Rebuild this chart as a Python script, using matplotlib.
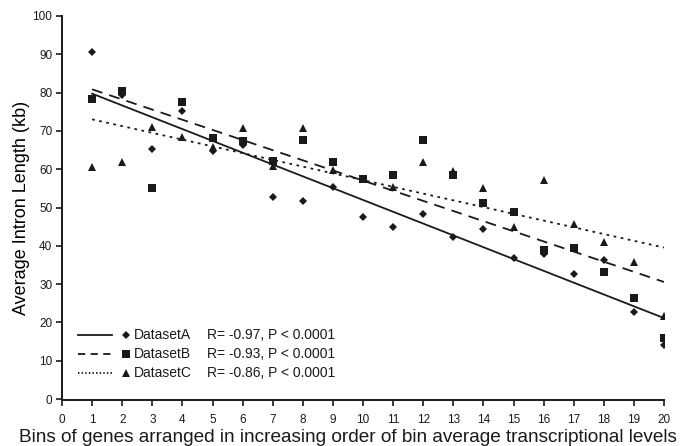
import numpy as np
import matplotlib
matplotlib.use("Agg")
import matplotlib.pyplot as plt
from matplotlib.lines import Line2D

plt.rcParams['font.family'] = ['Liberation Sans', 'DejaVu Sans']

bins = list(range(1, 21))
dataset_a = [90.7, 79.4, 65.2, 75.3, 64.8, 66.3, 52.8, 51.6, 55.3, 47.5,
             44.8, 48.2, 42.2, 44.3, 36.7, 37.9, 32.6, 36.3, 22.6, 14.1]
dataset_b = [78.3, 80.4, 55.0, 77.5, 68.2, 67.4, 62.1, 67.6, 61.8, 57.5,
             58.6, 67.6, 58.4, 51.3, 48.7, 38.9, 39.3, 33.2, 26.5, 15.8]
dataset_c = [60.5, 61.8, 70.9, 68.5, 65.9, 70.7, 60.9, 70.8, 59.8, 57.5,
             55.3, 61.8, 59.6, 55.0, 45.0, 57.2, 45.6, 41.1, 35.9, 21.7]
names = ["DatasetA", "DatasetB", "DatasetC"]
stats = ["R= -0.97, P < 0.0001", "R= -0.93, P < 0.0001", "R= -0.86, P < 0.0001"]
xticks = list(range(0, 21))
yticks = list(range(0, 101, 10))

W, H = 695, 446
fig = plt.figure(figsize=(W / 100, H / 100), dpi=100)
ax = fig.add_axes([62 / W, 1 - 399 / H, (664 - 62) / W, (399 - 16) / H])

markers = ['D', 's', '^']
msizes = [4.2, 5.2, 6.0]
styles = ['-', (0, (6, 4)), (0, (1.5, 2.5))]
leg_styles = ['-', (0, (4, 3)), (0, (0.8, 1.2))]
series = [dataset_a, dataset_b, dataset_c]
x = np.array(bins)
for ys, m, ms, ls in zip(series, markers, msizes, styles):
    ys = np.array(ys)
    ax.plot(x, ys, linestyle='none', marker=m, markersize=ms, color='#1a1a1a',
            markeredgewidth=0, zorder=3)
    k, b = np.polyfit(x, ys, 1)
    ax.plot(x[[0, -1]], k * x[[0, -1]] + b, linestyle=ls, color='#1a1a1a',
            linewidth=1.3, zorder=2)

ax.set_xlim(0, 20)
ax.set_ylim(0, 100)
ax.set_xticks(xticks)
ax.set_yticks(yticks)
for s in ['top', 'right']:
    ax.spines[s].set_visible(False)
for s in ['left', 'bottom']:
    ax.spines[s].set_linewidth(1.4)
    ax.spines[s].set_color('#1a1a1a')
ax.spines['bottom'].set_position(('outward', 1))
ax.tick_params(direction='out', length=4, width=1.2, labelsize=8.5, colors='#1a1a1a', pad=6)
ax.tick_params(axis='y', pad=3)
fig.text(0.5, 1 - 438 / H,
         "Bins of genes arranged in increasing order of bin average transcriptional levels",
         fontsize=13.7, ha='center', va='center', color='#1a1a1a')
ax.set_ylabel("Average Intron Length (kb)", fontsize=13, labelpad=2)

# legend drawn manually
rows = [335, 354, 373]
for ry, m, ms, ls, nm, st in zip(rows, markers, msizes, leg_styles, names, stats):
    yf = 1 - ry / H
    fig.add_artist(Line2D([78 / W, 112 / W], [yf, yf], linestyle=ls, color='#1a1a1a',
                          linewidth=1.3, transform=fig.transFigure))
    fig.add_artist(Line2D([126 / W], [yf], marker=m, markersize=ms, color='#1a1a1a',
                          markeredgewidth=0, transform=fig.transFigure))
    fig.text(134 / W, yf, nm, fontsize=10, va='center', ha='left', color='#1a1a1a')
    fig.text(207 / W, yf, st, fontsize=10, va='center', ha='left', color='#1a1a1a')

fig.savefig("out.png", dpi=100)
